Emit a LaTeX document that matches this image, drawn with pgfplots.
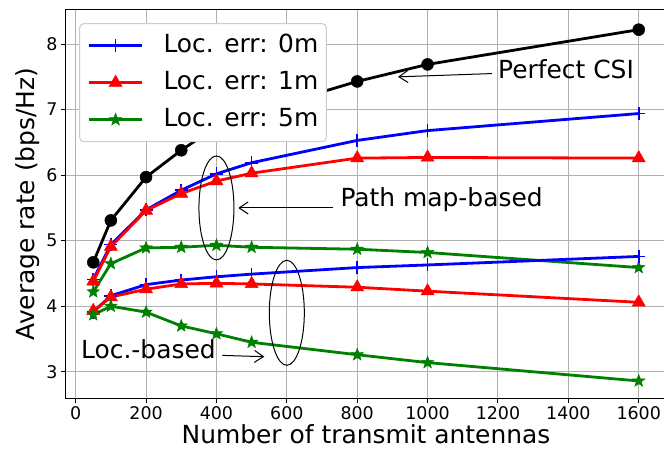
\documentclass[border=0pt]{standalone}
\usepackage{fontspec}
\setmainfont{DejaVu Sans}
\usepackage{pgfplots}
\usepackage{pgfplotstable}
\pgfplotsset{compat=1.18}
\usetikzlibrary{arrows.meta}

% filled five-pointed star, like matplotlib's '*'
\pgfdeclareplotmark{fstar}{%
  \pgfpathmoveto{\pgfpointpolar{90}{\pgfplotmarksize}}%
  \pgfpathlineto{\pgfpointpolar{126}{0.42\pgfplotmarksize}}%
  \pgfpathlineto{\pgfpointpolar{162}{\pgfplotmarksize}}%
  \pgfpathlineto{\pgfpointpolar{198}{0.42\pgfplotmarksize}}%
  \pgfpathlineto{\pgfpointpolar{234}{\pgfplotmarksize}}%
  \pgfpathlineto{\pgfpointpolar{270}{0.42\pgfplotmarksize}}%
  \pgfpathlineto{\pgfpointpolar{306}{\pgfplotmarksize}}%
  \pgfpathlineto{\pgfpointpolar{342}{0.42\pgfplotmarksize}}%
  \pgfpathlineto{\pgfpointpolar{18}{\pgfplotmarksize}}%
  \pgfpathlineto{\pgfpointpolar{54}{0.42\pgfplotmarksize}}%
  \pgfpathclose
  \pgfusepathqfillstroke}

\definecolor{mgreen}{RGB}{0,128,0}

% N: antennas; csi: perfect CSI; pm*: path map-based; lb*: location-based
\pgfplotstableread{
N    csi   pmA   pmB   pmC   lbA   lbB   lbC
50   4.67  4.41  4.38  4.22  3.91  3.93  3.87
100  5.31  4.94  4.91  4.65  4.16  4.14  4.00
200  5.97  5.47  5.46  4.89  4.33  4.26  3.91
300  6.38  5.77  5.72  4.90  4.40  4.34  3.70
400  6.74  6.02  5.91  4.93  4.45  4.35  3.58
500  6.95  6.19  6.03  4.90  4.49  4.34  3.45
800  7.43  6.53  6.26  4.87  4.59  4.29  3.26
1000 7.69  6.68  6.27  4.82  4.63  4.23  3.14
1600 8.22  6.94  6.26  4.59  4.76  4.06  2.86
}\rates

\begin{document}
\begin{tikzpicture}
\begin{axis}[
    width=600bp, height=388bp, scale only axis,
    at={(0,0)}, anchor=south west,
    xmin=-27.5, xmax=1677.5, ymin=2.6, ymax=8.52,
    xtick={0,200,...,1600}, ytick={3,4,...,8},
    grid=major,
    grid style={color=black!31, line width=1bp},
    axis line style={line width=1bp},
    tick align=outside, tick pos=left,
    major tick length=5bp,
    every tick/.style={black, line width=1bp},
    ticklabel style={font=\fontsize{17.5}{20}\selectfont},
    /pgf/number format/assume math mode=true,
    /pgf/number format/1000 sep={},
    xlabel={Number of transmit antennas},
    ylabel={Average rate (bps/Hz)},
    label style={font=\fontsize{25}{29}\selectfont},
    xlabel style={yshift=2bp},
    legend cell align=left,
    legend image code/.code={%
        \draw[mark repeat=2, mark phase=2]
        plot coordinates {(0bp,0bp) (26.5bp,0bp) (53bp,0bp)};},
    legend style={
        at={(axis description cs:0.022,0.966)}, anchor=north west,
        draw=black!20, line width=1bp, rounded corners=4bp,
        fill=white,
        font=\fontsize{25}{29}\selectfont,
        nodes={inner sep=0bp, text height=18bp, text depth=5bp},
        inner xsep=8bp, inner ysep=10.5bp, row sep=14bp,
        /tikz/every odd column/.append style={column sep=20bp},
    },
    every axis plot/.append style={line width=2.8bp},
]
\addplot[blue, mark=+, mark size=6.5bp, mark options={line width=1.6bp}]
    table[x=N, y=pmA] {\rates};
\addlegendentry{Loc. err: 0m}
\addplot[red, mark=triangle*, mark size=7.5bp, mark options={line width=0.5bp}]
    table[x=N, y=pmB] {\rates};
\addlegendentry{Loc. err: 1m}
\addplot[mgreen, mark=fstar, mark size=6.5bp, mark options={line width=0.5bp}]
    table[x=N, y=pmC] {\rates};
\addlegendentry{Loc. err: 5m}

\addplot[blue, mark=+, mark size=6.5bp, mark options={line width=1.6bp}, forget plot]
    table[x=N, y=lbA] {\rates};
\addplot[red, mark=triangle*, mark size=7.5bp, mark options={line width=0.5bp}, forget plot]
    table[x=N, y=lbB] {\rates};
\addplot[mgreen, mark=fstar, mark size=6.5bp, mark options={line width=0.5bp}, forget plot]
    table[x=N, y=lbC] {\rates};
\addplot[black, mark=*, mark size=6bp, mark options={line width=0.5bp}, forget plot]
    table[x=N, y=csi] {\rates};

% annotations
\draw[line width=1bp] (axis cs:400,5.5) ellipse [x radius=17.5bp, y radius=52bp];
\draw[line width=1bp] (axis cs:600,3.9) ellipse [x radius=17.5bp, y radius=52.5bp];
\draw[line width=1bp, -{Straight Barb[length=9bp, width=12bp]}]
    (axis cs:732,5.5) -- (axis cs:462,5.5);
\node[anchor=west, inner sep=0, font=\fontsize{25}{29}\selectfont]
    at (axis cs:752,5.62) {Path map-based};
\draw[line width=1bp, -{Straight Barb[length=9bp, width=12bp]}]
    (axis cs:1183,7.55) -- (axis cs:916,7.50);
\node[anchor=west, inner sep=0, font=\fontsize{25}{29}\selectfont]
    at (axis cs:1200,7.61) {Perfect CSI};
\draw[line width=1bp, -{Straight Barb[length=9bp, width=12bp]}]
    (axis cs:417,3.25) -- (axis cs:536,3.23);
\node[anchor=west, inner sep=0, font=\fontsize{25}{29}\selectfont]
    at (axis cs:15,3.35) {Loc.-based};
\end{axis}
\pgfresetboundingbox
\path (-66bp,-61bp) rectangle (598bp,398bp);
\end{tikzpicture}
\end{document}
